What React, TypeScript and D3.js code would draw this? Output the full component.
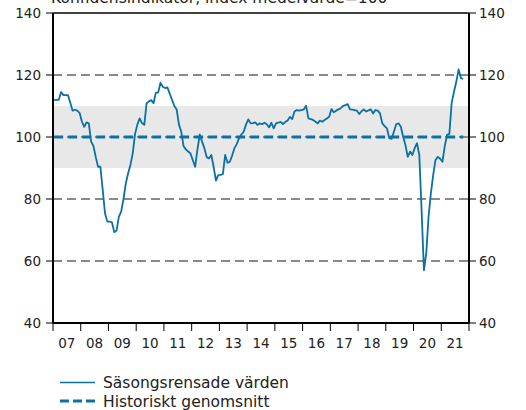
import React from 'react';
import * as d3 from 'd3';

const title = 'Konfidensindikator, index medelvärde=100';
const yearLabels = ['07', '08', '09', '10', '11', '12', '13', '14', '15', '16', '17', '18', '19', '20', '21'];
const firstYear = 2007;
const yTicks = [40, 60, 80, 100, 120, 140];
const gridValues = [60, 80, 100, 120];
const normalBand = [90, 110];
const historicalAverage = 100;
const legendLabels = ['Säsongsrensade värden', 'Historiskt genomsnitt'];

// Monthly, seasonally adjusted, Jan 2007 onwards
const seasonallyAdjusted = [
  // 2007
  112, 112, 112, 114.5, 113.5, 113.5, 113.5, 111, 108.5, 108.8, 108.5, 107.8,
  // 2008
  105, 103.3, 104.7, 104.4, 98.5, 97.1, 93.5, 90.4, 90.4, 83, 75.4, 72.7,
  // 2009
  72.7, 72.5, 69.3, 69.8, 74.3, 75.9, 80, 85, 88.3, 91, 94.7, 101,
  // 2010
  104, 106, 104.5, 103.9, 110.9, 111.5, 111.9, 110.9, 114.3, 114.3, 117.5, 116.2,
  // 2011
  115.8, 116, 114, 112, 110, 108.9, 104, 101.7, 97, 96, 95.3, 94.7,
  // 2012
  92.5, 90.4, 96, 100.8, 98.5, 96.4, 93.5, 93.1, 94.2, 90.4, 85.9, 87.7,
  // 2013
  87.8, 88, 94.2, 91.7, 92, 94, 96.4, 97.7, 99.6, 100.8, 101.7, 104,
  // 2014
  105.7, 104.4, 104.5, 104.7, 103.9, 104.4, 104.1, 104.6, 104.1, 103.1, 104.6, 102.8,
  // 2015
  104.4, 104.6, 104.9, 104.2, 104.8, 105.3, 106.5, 105.8, 108.2, 108.7, 108.5, 108.7,
  // 2016
  108.9, 110.1, 106, 105.8, 105.5, 105, 104.4, 105.3, 104.9, 105.5, 106, 106.5,
  // 2017
  109, 108, 108.5, 108.9, 109.3, 110, 110.3, 110.6, 108.9, 108.8, 108.7, 108.5,
  // 2018
  107.4, 108.3, 108.9, 108.2, 108.6, 108.9, 107.6, 108.7, 108.5, 107.6, 104.4, 103.5,
  // 2019
  102.8, 99.6, 99.4, 101.7, 104.1, 104.4, 103.3, 100.1, 97.4, 93.6, 95.3, 94.2,
  // 2020
  96.4, 98, 94.2, 76, 57, 62.5, 74.3, 81.8, 87.7, 92.6, 93.6, 93,
  // 2021
  92, 97, 100.7, 101, 111, 114.6, 117.8, 121.8, 119, 118.7,
];

const W = 526;
const H = 410;
const M = { left: 53, right: 469, top: 13, bottom: 323 };
const FONT = '"DejaVu Sans", Verdana, sans-serif';
const BLUE = '#0b71a3';
const GRID = '#8a8a8a';

export default function App() {
  const x = d3.scaleLinear().domain([firstYear, firstYear + yearLabels.length]).range([M.left, M.right]);
  const y = d3.scaleLinear().domain([40, 140]).range([M.bottom, M.top]);

  const monthX = (i: number) => x(firstYear + (i + 0.5) / 12);
  const line = d3
    .line<number>()
    .x((_, i) => monthX(i))
    .y((d) => y(d));
  const avgData = seasonallyAdjusted.map(() => historicalAverage);

  const yearTicks = d3.range(yearLabels.length + 1).map((k) => firstYear + k);

  return (
    <svg width={W} height={H} style={{ position: 'absolute', left: 0, top: 0 }} fontFamily={FONT}>
      <text x={51} y={3} fontSize={15.5} fill="#222">{title}</text>
      <rect
        x={M.left}
        width={M.right - M.left}
        y={y(normalBand[1])}
        height={y(normalBand[0]) - y(normalBand[1])}
        fill="#e8e8e8"
      />
      {gridValues.map((v) => (
        <line key={v} x1={M.left} x2={M.right} y1={y(v)} y2={y(v)} stroke={GRID} strokeWidth={2} strokeDasharray="9,5" />
      ))}
      <path d={line(avgData) || ''} fill="none" stroke={BLUE} strokeWidth={3.2} strokeDasharray="9,5" />
      <path d={line(seasonallyAdjusted) || ''} fill="none" stroke={BLUE} strokeWidth={1.8} strokeLinejoin="round" />
      <line x1={M.left} x2={M.right} y1={M.top} y2={M.top} stroke="#000" strokeWidth={1.5} />
      <line x1={M.left} x2={M.right} y1={M.bottom} y2={M.bottom} stroke="#000" strokeWidth={2} />
      <line x1={M.left} x2={M.left} y1={M.top} y2={M.bottom} stroke="#000" strokeWidth={2} />
      <line x1={M.right} x2={M.right} y1={M.top} y2={M.bottom} stroke="#000" strokeWidth={2} />
      {yTicks.map((v) => (
        <g key={v}>
          <line x1={M.left - 7} x2={M.left} y1={y(v)} y2={y(v)} stroke="#000" strokeWidth={1} />
          <line x1={M.right} x2={M.right + 7} y1={y(v)} y2={y(v)} stroke="#000" strokeWidth={1} />
          <text x={M.left - 12} y={y(v)} dy="0.36em" textAnchor="end" fontSize={13.5} fill="#222">{v}</text>
          <text x={M.right + 10} y={y(v)} dy="0.36em" textAnchor="start" fontSize={13.5} fill="#222">{v}</text>
        </g>
      ))}
      {yearTicks.map((t) => (
        <line key={t} x1={x(t)} x2={x(t)} y1={M.bottom} y2={M.bottom + 8} stroke="#000" strokeWidth={1} />
      ))}
      {yearLabels.map((lab, k) => (
        <text key={lab} x={x(firstYear + k + 0.5)} y={348} textAnchor="middle" fontSize={13.5} fill="#222">{lab}</text>
      ))}
      <line x1={60} x2={95} y1={382.5} y2={382.5} stroke={BLUE} strokeWidth={1.5} />
      <text x={103} y={388} fontSize={15.5} fill="#222">{legendLabels[0]}</text>
      <line x1={60} x2={95} y1={401} y2={401} stroke={BLUE} strokeWidth={3.2} strokeDasharray="9,4" />
      <text x={103} y={406.5} fontSize={15.5} fill="#222">{legendLabels[1]}</text>
    </svg>
  );
}
